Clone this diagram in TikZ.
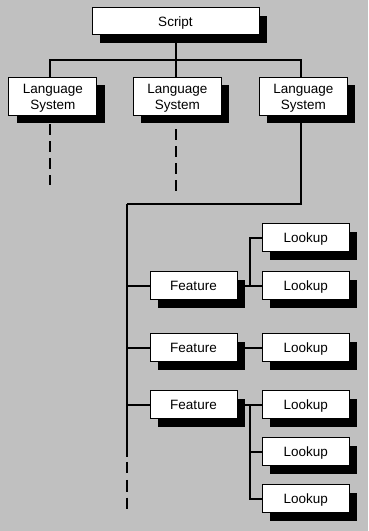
\documentclass[tikz,border=0pt]{standalone}
\usepackage{fontspec}
\setmainfont{Liberation Sans}
\usetikzlibrary{shadows}
\definecolor{bggray}{HTML}{C0C0C0}
\pgfdeclarelayer{back}
\pgfdeclarelayer{wires}
\pgfsetlayers{back,wires,main}
\begin{document}
\begin{tikzpicture}[x=1pt,y=1pt,
  box/.style={draw=black, fill=white, line width=1pt, inner sep=0pt,
    font=\fontsize{13.5}{16}\selectfont, align=center,
    text height=9.7pt, text depth=0pt,
    drop shadow={shadow xshift=8pt, shadow yshift=-8pt, opacity=1, fill=black}},
  scriptbox/.style={box, minimum width=167pt, minimum height=27pt},
  lsbox/.style={box, minimum width=88pt, minimum height=38pt, text height=25.7pt},
  smallbox/.style={box, minimum width=87pt, minimum height=28pt},
  conn/.style={line width=2pt, black}]
\begin{pgfonlayer}{back}
  \fill[bggray] (0,0) rectangle (368,531);
\end{pgfonlayer}
\useasboundingbox (0,0) rectangle (368,531);

\node[scriptbox] (script) at (175.5,509.5) {Script};
\node[lsbox] (ls1) at (52.8,434.5) {Language\\System};
\node[lsbox] (ls2) at (177.3,434.5) {Language\\System};
\node[lsbox] (ls3) at (303.3,434.5) {Language\\System};

\node[smallbox] (f1) at (193.5,245) {Feature};
\node[smallbox] (f2) at (193.5,183) {Feature};
\node[smallbox] (f3) at (193.5,126) {Feature};

\node[smallbox] (l1) at (305.8,293) {Lookup};
\node[smallbox] (l2) at (305.8,245) {Lookup};
\node[smallbox] (l3) at (305.8,183) {Lookup};
\node[smallbox] (l4) at (305.8,126) {Lookup};
\node[smallbox] (l5) at (305.8,79.3) {Lookup};
\node[smallbox] (l6) at (305.8,32.2) {Lookup};

\coordinate (bus) at (0,471);
\coordinate (sptop) at (127,327);
\coordinate (spend) at (127,22);
\coordinate (bx) at (250,0);

\begin{pgfonlayer}{wires}
  \draw[conn] (script.south) -- (script.south |- bus);
  \draw[conn] ([xshift=-3pt]ls1.north) -- ([xshift=-3pt]ls1.north |- bus) -- ([xshift=-2pt]ls3.north |- bus) -- ([xshift=-2pt]ls3.north);
  \draw[conn] ([xshift=-1pt]ls2.north) -- ([xshift=-1pt]ls2.north |- bus);
  \draw[conn, dash pattern=on 10.5pt off 6.5pt, dash phase=8.8pt] ([xshift=-3pt]ls1.south) -- ++(0,-69.4);
  \draw[conn, dash pattern=on 10.5pt off 6.5pt, dash phase=3.5pt] ([xshift=-1pt]ls2.south) -- ++(0,-75);
  \draw[conn] ([xshift=-2pt]ls3.south) |- (sptop);
  \draw[conn, dash pattern=on 252.7pt off 5.3pt on 10.7pt off 7.3pt on 11.7pt off 6pt on 11.3pt off 20pt] (sptop) -- (spend);
  \draw[conn] (f1.west -| sptop) -- (f1.west);
  \draw[conn] (f2.west -| sptop) -- (f2.west);
  \draw[conn] (f3.west -| sptop) -- (f3.west);
  \draw[conn] (f1.east) -- (l2.west);
  \draw[conn] (l1.west) -| (bx |- f1.east);
  \draw[conn] (f2.east) -- (l3.west);
  \draw[conn] (f3.east) -- (l4.west);
  \draw[conn] (bx |- f3.east) |- (l6.west);
  \draw[conn] (bx |- l5.west) -- (l5.west);
\end{pgfonlayer}
\end{tikzpicture}
\end{document}
